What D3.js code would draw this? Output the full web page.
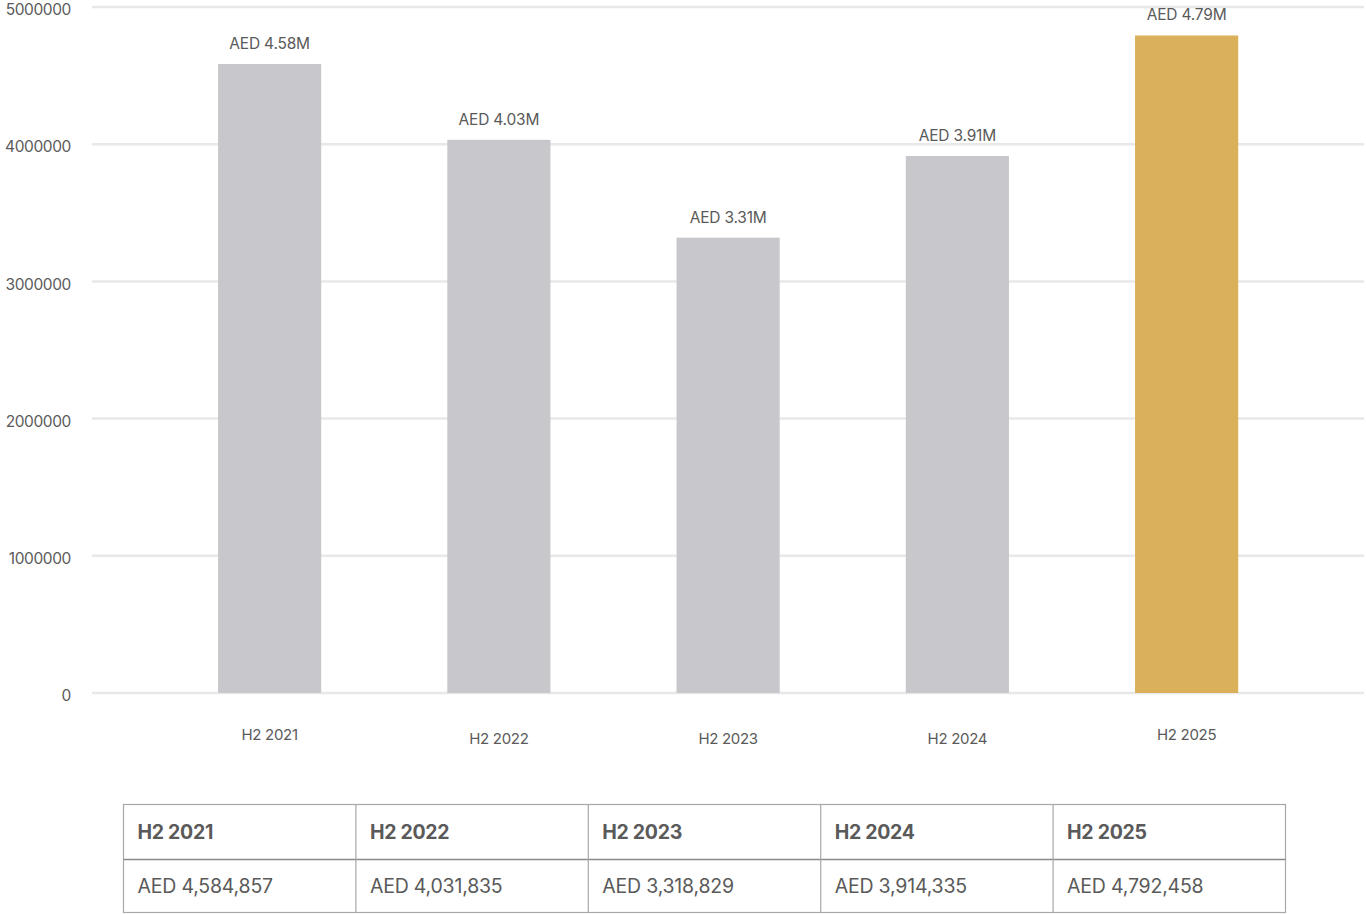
<!DOCTYPE html>
<html><head><meta charset="utf-8">
<script src="https://cdn.jsdelivr.net/npm/d3@7"></script>
<style>
html,body{margin:0;padding:0;background:#fff;}
svg text{font-family:"Inter","Liberation Sans",sans-serif;}
</style></head>
<body>
<svg id="chart" width="1366" height="914"></svg>
<script>
const categories = ["H2 2021","H2 2022","H2 2023","H2 2024","H2 2025"];
const values = [4584857, 4031835, 3318829, 3914335, 4792458];
const valueLabels = ["AED 4.58M","AED 4.03M","AED 3.31M","AED 3.91M","AED 4.79M"];
const tableValues = ["AED 4,584,857","AED 4,031,835","AED 3,318,829","AED 3,914,335","AED 4,792,458"];
const yTicks = [0,1000000,2000000,3000000,4000000,5000000];
const barColors = ["#c8c7cc","#c8c7cc","#c8c7cc","#c8c7cc","#dab15a"];

const svg = d3.select("#chart");
const textColor = "#5a5a5a";

const x = d3.scaleBand().domain(categories).range([155,1301.25]).paddingInner(0.55).paddingOuter(0.275);
const y = d3.scaleLinear().domain([0,5000000]).range([693,7]);

// gridlines
svg.append("g").selectAll("line").data(yTicks).join("line")
  .attr("x1",92).attr("x2",1364)
  .attr("y1",d=>y(d)).attr("y2",d=>y(d))
  .attr("stroke","#e8e8e8").attr("stroke-width",2.5);

// y axis labels
const yAxis = d3.axisLeft(y).tickValues(yTicks).tickFormat(d=>String(d)).tickSize(0).tickPadding(0);
const ya = svg.append("g").attr("transform","translate(71,0)").call(yAxis);
ya.select(".domain").remove();
ya.selectAll("text").attr("fill",textColor).attr("font-size",15.5).style("letter-spacing","-0.4px")
  .attr("dy","0.5em").attr("font-family","Inter, Liberation Sans, sans-serif");

// bars
svg.append("g").selectAll("rect").data(values).join("rect")
  .attr("x",(d,i)=>x(categories[i]))
  .attr("width",x.bandwidth())
  .attr("y",d=>y(d))
  .attr("height",d=>y(0)-y(d))
  .attr("fill",(d,i)=>barColors[i]);

// value labels
svg.append("g").selectAll("text").data(values).join("text")
  .attr("x",(d,i)=>x(categories[i])+x.bandwidth()/2)
  .attr("y",d=>y(d)-15)
  .attr("text-anchor","middle")
  .attr("fill",textColor).attr("font-size",15.5).style("letter-spacing","-0.2px")
  .text((d,i)=>valueLabels[i]);

// x labels
svg.append("g").selectAll("text").data(categories).join("text")
  .attr("x",d=>x(d)+x.bandwidth()/2)
  .attr("y",(d,i)=> (i===0||i===categories.length-1) ? 740 : 744)
  .attr("text-anchor","middle")
  .attr("fill",textColor).attr("font-size",15).style("letter-spacing","-0.3px")
  .text(d=>d);

// table
const tx = d3.scaleBand().domain(categories).range([123.5,1285.5]);
const t0 = 804.5, t1 = 859.5, t2 = 912.5;
const tg = svg.append("g");
tg.append("rect").attr("x",123.5).attr("y",t0).attr("width",1162).attr("height",t2-t0)
  .attr("fill","none").attr("stroke","#a8a8a8").attr("stroke-width",1.2);
tg.append("line").attr("x1",123.5).attr("x2",1285.5).attr("y1",t1).attr("y2",t1)
  .attr("stroke","#8a8a8a").attr("stroke-width",1.5);
tg.selectAll("line.col").data(categories.slice(1)).join("line").attr("class","col")
  .attr("x1",d=>tx(d)).attr("x2",d=>tx(d)).attr("y1",t0).attr("y2",t2)
  .attr("stroke","#a8a8a8").attr("stroke-width",1.2);
tg.selectAll("text.h").data(categories).join("text").attr("class","h")
  .attr("x",d=>tx(d)+14).attr("y",(t0+t1)/2).attr("dy","0.35em")
  .attr("fill",textColor).attr("font-size",19.5).attr("font-weight","bold").style("letter-spacing","-0.3px")
  .text(d=>d);
tg.selectAll("text.v").data(tableValues).join("text").attr("class","v")
  .attr("x",(d,i)=>tx(categories[i])+14).attr("y",(t1+t2)/2).attr("dy","0.35em")
  .attr("fill",textColor).attr("font-size",19.5).style("letter-spacing","-0.2px")
  .text(d=>d);
</script>
</body></html>
